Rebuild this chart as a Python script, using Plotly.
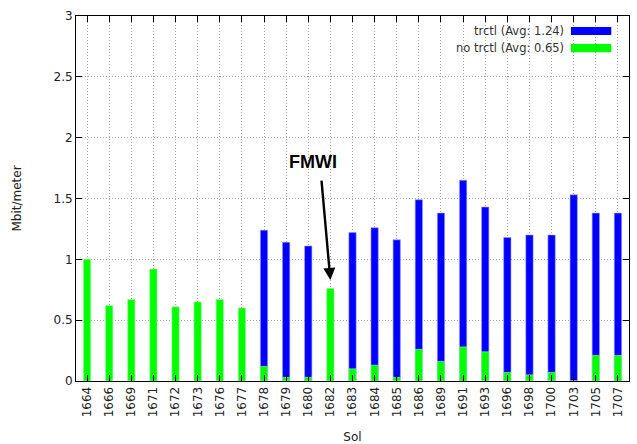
import plotly.graph_objects as go

# Sol numbers (categorical x axis)
sols = ["1664", "1666", "1669", "1671", "1672", "1673", "1676", "1677",
        "1678", "1679", "1680", "1682", "1683", "1684", "1685", "1686",
        "1689", "1691", "1693", "1696", "1698", "1700", "1703", "1705", "1707"]

# Data volume per meter driven, Mbit/meter
trctl = [0, 0, 0, 0, 0, 0, 0, 0,
         1.24, 1.14, 1.11, 0, 1.22, 1.26, 1.16, 1.49,
         1.38, 1.65, 1.43, 1.18, 1.20, 1.20, 1.53, 1.38, 1.38]
no_trctl = [1.00, 0.62, 0.67, 0.92, 0.61, 0.65, 0.67, 0.60,
            0.12, 0.03, 0.03, 0.76, 0.10, 0.13, 0.03, 0.26,
            0.16, 0.28, 0.24, 0.07, 0.05, 0.07, 0.00, 0.21, 0.21]

series_names = ["trctl (Avg: 1.24)", "no trctl (Avg: 0.65)"]
series_colors = ["#0000ff", "#00ff00"]
y_ticks = [0, 0.5, 1, 1.5, 2, 2.5, 3]

# sol flagged with the FMWI label
fmwi_sol = "1682"
fmwi_idx = sols.index(fmwi_sol)

FONT = "DejaVu Sans"

fig = go.Figure()
for name, vals, col, edge in [
    (series_names[0], trctl, series_colors[0], "#9a9aff"),
    (series_names[1], no_trctl, series_colors[1], "#9aff9a"),
]:
    fig.add_trace(go.Bar(
        x=list(range(len(sols))), y=vals, name=name, width=0.33,
        marker=dict(color=col, line=dict(color=edge, width=0.6)),
        showlegend=False,
    ))

# Legend drawn gnuplot-style: right-aligned label, colour swatch on the right
for i, (name, col) in enumerate(zip(series_names, series_colors)):
    yp = 0.959 - i * 0.047
    fig.add_annotation(
        xref="paper", yref="paper", x=0.886, y=yp, xanchor="right",
        yanchor="middle", text=name, showarrow=False,
        font=dict(family=FONT, size=11.5, color="#333333"),
    )
    fig.add_shape(
        type="rect", xref="paper", yref="paper",
        x0=0.895, x1=0.968, y0=yp - 0.011, y1=yp + 0.011,
        fillcolor=col, line=dict(width=0),
    )

# FMWI arrow pointing down at the flagged sol
fig.add_annotation(
    x=fmwi_idx, y=0.83, xref="x", yref="y",
    ax=-9, ay=-101,
    text="", showarrow=True, arrowhead=2, arrowsize=1.0, arrowwidth=2.4,
    arrowcolor="black",
)
fig.add_annotation(
    x=fmwi_idx, y=1.80, xref="x", yref="y", xshift=-17,
    text="<b>FMWI</b>", showarrow=False,
    font=dict(family="Liberation Sans", size=18, color="black"),
)

axis_common = dict(
    showline=True, linecolor="black", linewidth=1, mirror="ticks",
    ticks="inside", ticklen=6, tickcolor="black",
    showgrid=True, gridcolor="#a8a8a8", griddash="1px,2px", gridwidth=1,
    zeroline=False, automargin=False,
    tickfont=dict(family=FONT, size=12, color="#222222"),
)

fig.update_xaxes(
    range=[-0.5, len(sols) - 0.5], tickangle=-90,
    tickvals=list(range(len(sols))), ticktext=sols,
    title=dict(text="Sol", font=dict(family=FONT, size=12, color="#222222"),
               standoff=16),
    **axis_common,
)
fig.update_yaxes(
    range=[0, 3], tickvals=y_ticks, ticktext=[f"{v:g}" for v in y_ticks],
    title=dict(text="Mbit/meter", font=dict(family=FONT, size=12, color="#222222"),
               standoff=29),
    **axis_common,
)

fig.update_layout(
    width=637, height=444, barmode="overlay",
    margin=dict(l=76, r=8, t=16, b=63),
    plot_bgcolor="white", paper_bgcolor="white",
)

fig.write_html("out.html")
